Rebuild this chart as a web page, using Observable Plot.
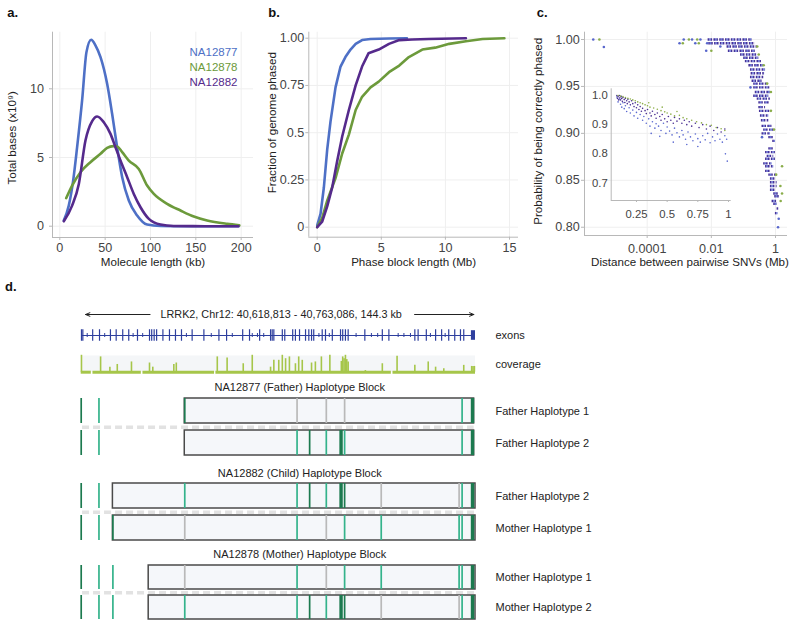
<!DOCTYPE html>
<html><head><meta charset="utf-8">
<script src="https://cdn.jsdelivr.net/npm/d3@7"></script>
<script src="https://cdn.jsdelivr.net/npm/@observablehq/plot@0.6"></script>
<style>
body{margin:0;background:#fff;font-family:"Liberation Sans",Arial,Helvetica,sans-serif;}
#root{position:relative;width:800px;height:626px;overflow:hidden;background:#fff;}
.pane{position:absolute;line-height:0;}
</style></head><body><div id="root"></div>
<script>
// ---------------- DATA ----------------
// Panel a: molecule length (kb) vs total bases (x10^9)
const aNA12877 = [[4.4,0.41],[9.9,1.5],[14.7,3.3],[19.1,5.75],[24.6,9.15],[29.4,12.67],[34.6,13.57],[39.3,13.16],[44.9,12.3],[52.2,10.36],[57.7,8.18],[63.2,5.75],[68.8,3.57],[76.1,1.87],[85.3,0.78],[96.3,0.12],[111,0.02],[140,0],[197,0]];
const aNA12878 = [[7,2.04],[13.6,2.96],[22.8,3.93],[33.8,4.66],[44.9,5.27],[52.2,5.7],[59,5.83],[63.2,5.8],[68.8,5.39],[76.1,4.78],[87.1,4.17],[96.3,2.96],[103.7,2.35],[118.4,1.63],[133.1,1.14],[147.8,0.7],[162.5,0.41],[184.6,0.17],[198,0.07]];
const aNA12882 = [[4.4,0.36],[13.6,1.5],[21,3.08],[28.3,6.24],[35.7,7.65],[41.2,7.99],[48.5,7.57],[55.9,6.72],[61.4,5.75],[66.9,4.78],[74.3,3.57],[81.6,2.35],[89,1.38],[98.2,0.53],[111,0.12],[125.7,0.02],[160,0],[197,0]];
const aXTicks = [0,50,100,150,200];
const aYTicks = [0,5,10];
const sampleNames = ["NA12877","NA12878","NA12882"];

// Panel b: phase block length (Mb) vs fraction of genome phased
const bNA12877 = [[0,0.01],[0.26,0.07],[0.52,0.21],[0.78,0.41],[1.04,0.56],[1.43,0.74],[1.82,0.85],[2.2,0.9],[2.6,0.94],[3.0,0.97],[3.5,0.99],[4.16,0.996],[5.6,0.998],[7.0,1.0]];
const bNA12878 = [[0,0],[0.39,0.05],[0.78,0.14],[1.43,0.26],[1.95,0.39],[2.47,0.49],[3.0,0.62],[3.5,0.69],[4.16,0.74],[4.8,0.77],[5.6,0.82],[6.4,0.855],[7.15,0.9],[8.2,0.94],[9.2,0.95],[10.3,0.97],[11.6,0.984],[12.9,0.996],[14.6,1.0]];
const bNA12882 = [[0,0],[0.39,0.03],[0.78,0.11],[1.17,0.21],[1.56,0.35],[1.95,0.48],[2.47,0.62],[3.0,0.75],[3.5,0.85],[4.0,0.92],[4.8,0.94],[5.6,0.97],[6.4,0.99],[7.4,0.993],[8.7,0.996],[11.6,1.0]];
const bXTicks = [0,5,10,15];
const bYTicks = [0,0.25,0.5,0.75,1];
const bYTickLabels = ["0","0.25","0.5","0.75","1.00"];

// Panel c: rows of points [probability, min distance Mb, max distance Mb]
const cRows = [[1.000,0.00794,0.186],[0.996,0.00832,0.234],[0.9925,0.0309,0.269],[0.988,0.0339,0.234],[0.984,0.0813,0.269],[0.9805,0.102,0.302],[0.977,0.115,0.380],[0.9726,0.148,0.427],[0.968,0.166,0.490],[0.964,0.174,0.457],[0.960,0.166,0.431],[0.956,0.186,0.382],[0.953,0.209,0.550],[0.949,0.209,0.692],[0.944,0.234,0.692],[0.940,0.209,0.617],[0.937,0.269,0.692],[0.933,0.302,0.692],[0.928,0.302,0.490],[0.924,0.316,0.692],[0.919,0.339,0.617],[0.914,0.363,0.617],[0.908,0.380,0.776],[0.904,0.427,0.881],[0.900,0.380,0.692],[0.896,0.617,0.881],[0.892,0.820,0.993],[0.884,0.617,0.881],[0.880,0.490,0.993],[0.876,0.550,0.881],[0.873,0.490,0.993],[0.868,0.427,0.782],[0.865,0.490,0.881],[0.860,0.490,0.695],[0.856,0.617,1.04],[0.852,0.695,0.993],[0.848,0.695,1.12],[0.844,0.695,1.12],[0.840,0.695,0.993],[0.836,0.881,1.32],[0.833,0.946,1.32],[0.828,0.782,1.12],[0.825,0.881,1.12],[0.820,1.12,1.26],[0.815,0.993,1.20]];
const cBluePts = [[2.09e-6,1.0],[4.47e-6,0.992],[0.00138,1.0],[0.00251,1.0],[0.00457,1.0],[0.00102,0.996],[0.00316,0.996],[0.00741,0.996],[0.0191,0.9925],[0.00692,0.988],[0.166,0.949],[1.26,0.809],[1.20,0.80],[0.380,0.896]];
const cGreenPts = [[3.24e-6,1.0],[0.0020,1.0],[0.00363,1.0],[0.00129,0.996],[0.00407,0.996],[0.0100,0.988],[1.60,0.865],[1.42,0.844],[1.60,0.836],[0.27,0.9925],[0.30,0.984],[0.43,0.9726],[0.55,0.953],[0.72,0.944],[0.72,0.924],[0.90,0.904],[1.05,0.856],[1.45,0.828]];
const cXTicks = [1e-4,1e-2,1];
const cXTickLabels = ["0.0001","0.01","1"];
const cYTicks = [0.80,0.85,0.90,0.95,1.00];
// inset (linear distance)
const insetPurple = [[0.09,1.0],[0.095,0.99],[0.1,0.996],[0.105,0.985],[0.11,1.0],[0.115,0.992],[0.12,0.985],[0.125,0.997],[0.13,0.99],[0.135,0.98],[0.14,0.993],[0.15,0.986],[0.155,0.976],[0.16,0.99],[0.17,0.982],[0.175,0.972],[0.18,0.987],[0.19,0.978],[0.2,0.968],[0.21,0.982],[0.22,0.972],[0.23,0.962],[0.24,0.975],[0.25,0.958],[0.26,0.968],[0.27,0.952],[0.28,0.962],[0.29,0.946],[0.3,0.956],[0.32,0.948],[0.33,0.938],[0.34,0.952],[0.36,0.94],[0.37,0.93],[0.38,0.946],[0.4,0.935],[0.41,0.922],[0.42,0.94],[0.44,0.928],[0.45,0.915],[0.46,0.935],[0.48,0.92],[0.5,0.91],[0.51,0.928],[0.53,0.915],[0.55,0.905],[0.56,0.925],[0.58,0.912],[0.6,0.92],[0.62,0.905],[0.64,0.915],[0.66,0.9],[0.68,0.91],[0.7,0.895],[0.73,0.905],[0.76,0.89],[0.79,0.9],[0.82,0.885],[0.85,0.895],[0.88,0.88],[0.91,0.89],[0.94,0.875],[0.97,0.885]];
const insetBlue = [[0.09,0.995],[0.1,0.978],[0.11,0.988],[0.12,0.97],[0.13,0.96],[0.14,0.975],[0.15,0.955],[0.16,0.965],[0.17,0.945],[0.19,0.958],[0.2,0.94],[0.22,0.95],[0.23,0.93],[0.25,0.942],[0.26,0.922],[0.28,0.935],[0.3,0.915],[0.31,0.928],[0.33,0.905],[0.35,0.92],[0.36,0.895],[0.38,0.91],[0.4,0.888],[0.41,0.903],[0.43,0.895],[0.45,0.88],[0.47,0.905],[0.49,0.87],[0.5,0.892],[0.52,0.878],[0.54,0.865],[0.56,0.888],[0.58,0.872],[0.6,0.858],[0.62,0.88],[0.63,0.865],[0.65,0.85],[0.67,0.875],[0.69,0.858],[0.71,0.845],[0.73,0.868],[0.75,0.852],[0.77,0.84],[0.79,0.862],[0.81,0.848],[0.83,0.87],[0.85,0.838],[0.87,0.858],[0.89,0.845],[0.91,0.868],[0.93,0.85],[0.95,0.84],[0.97,0.862],[0.985,0.85],[0.975,0.8],[0.99,0.775],[0.37,0.87],[0.44,0.86],[0.55,0.84],[0.66,0.832],[0.75,0.825]];
const insetGreen = [[0.1,1.0],[0.12,0.998],[0.14,0.996],[0.16,0.993],[0.18,0.99],[0.2,0.988],[0.22,0.985],[0.24,0.982],[0.26,0.978],[0.28,0.975],[0.3,0.972],[0.32,0.968],[0.34,0.965],[0.36,0.96],[0.39,0.957],[0.42,0.953],[0.45,0.948],[0.48,0.944],[0.5,0.94],[0.53,0.936],[0.56,0.93],[0.6,0.932],[0.63,0.924],[0.66,0.92],[0.7,0.915],[0.74,0.91],[0.78,0.906],[0.82,0.9],[0.86,0.898],[0.9,0.89],[0.94,0.886],[0.97,0.88],[0.35,0.975],[0.46,0.96],[0.58,0.945]];
const insetXTicks = [0.25,0.5,0.75,1];
const insetXTickLabels = ["0.25","0.5","0.75","1"];
const insetYTicks = [0.7,0.8,0.9,1.0];
const insetYTickLabels = ["0.7","0.8","0.9","1.0"];

// Panel d: LRRK2 locus, positions in kb from 40,618,813
const geneLabel = "LRRK2, Chr12: 40,618,813 - 40,763,086, 144.3 kb";
const locusLength = 144.3;
const exonPos = [0.1,0.6,4.2,6.7,10.7,12.8,15.2,17.4,20.6,25.0,25.8,26.7,27.6,29.9,32.3,34.5,36.7,40.6,44.9,50.4,53.2,59.1,61.6,65.3,69.3,69.9,70.5,73.6,74.5,77.4,78.4,79.9,82.1,83.3,84.3,85.1,88.2,89.4,91.9,94.9,95.7,96.7,97.7,103.8,110.2,112.6,122.1,123.3,126.3,129.7,131.9,134.5,136.7,138.8,140.0];
const intronMarks = [2.2,8.6,19.0,22.5,38.5,47.6,55.3,62.6,64.5,66.8,87.0,90.8,100.6,106.2,108.5,116.0,118.1,120.5,127.8,133.2];
const coverage = [[0.1,94],[7.1,85],[10.5,28],[13.2,43],[18.4,57],[25.0,51],[26.2,28],[33.9,43],[34.8,51],[49.8,85],[53.4,79],[59.3,47],[62.6,94],[69.3,28],[70.5,66],[72.3,66],[73.6,94],[74.8,75],[76.2,85],[78.4,47],[79.6,85],[80.9,66],[84.3,51],[85.7,57],[87.9,85],[91.0,94],[95.2,60],[95.7,85],[96.2,75],[96.7,94],[97.2,70],[97.7,57],[104.0,9],[110.2,47],[115.6,89],[122.1,38],[127.0,57],[129.7,28],[132.7,19],[140.0,38],[142.9,32],[143.4,32],[143.9,32]];
const coverageSegments = [[0,3.7],[4.3,22.0],[22.6,48.8],[49.3,113.5],[114.1,144.3]];
const snvPos = [0,6.5,11.6,37.9,79.0,83.6,89.7,95.1,96.4,109.8,138.3,139.4,143.2];
// allele codes per haplotype: D = alt (dark green), T = alt (teal), G = reference (grey), . = none
const fatherRows = ["Father Haplotype 1","Father Haplotype 2"];
const fatherAlleles = ["DT.DG.G.G..TD","DT..TDTDT..TD"];
const fatherBlock = [37.9,143.8];
const childRows = ["Father Haplotype 2","Mother Haplotype 1"];
const childAlleles = ["DT.TTDTDDGGTD","DTDGT.G.TTTTD"];
const childBlock = [11.6,144.3];
const motherRows = ["Mother Haplotype 1","Mother Haplotype 2"];
const motherAlleles = ["DTTGT.G.TTTTD","DTTTTDTDDGGTD"];
const motherBlock = [24.7,144.3];

// ---------------- STYLE ----------------
const FONT = "'Liberation Sans', Arial, Helvetica, sans-serif";
const colBlue = "#4e70c6", colGreen = "#6c9a3b", colPurple = "#552a8c";
const axisCol = "#b8b8b8", tickTextCol = "#444", titleCol = "#222", gridCol = "#efefef";
const alleleCol = {D:"#1c7a4f", T:"#34b38b", G:"#b9b9b9"};
const root = document.getElementById("root");
function place(node, left, top){const d=document.createElement("div");d.className="pane";d.style.left=left+"px";d.style.top=top+"px";d.appendChild(node);root.appendChild(d);}
const baseStyle = {fontFamily:FONT, fontSize:"12.6px", background:"transparent", overflow:"visible"};
const toXY = a => a.map(([x,y])=>({x,y}));
const xTitle = (t, dy, dx=0) => Plot.text([t],{frameAnchor:"bottom",lineAnchor:"middle",textAnchor:"middle",dy,dx,fontSize:11.6,fill:titleCol});
const yTitle = (t, dx, dy=0) => Plot.text([t],{frameAnchor:"left",textAnchor:"middle",lineAnchor:"middle",rotate:-90,dx,dy,fontSize:11.6,fill:titleCol});

// ---------------- PANEL A ----------------
{
  const xd=[-8.05,213.6], yd=[-0.822,14.12];
  const series=[[aNA12877,colBlue],[aNA12878,colGreen],[aNA12882,colPurple]];
  const p = Plot.plot({width:260,height:275,marginLeft:52,marginRight:7,marginTop:31.7,marginBottom:38,style:baseStyle,
    x:{domain:xd}, y:{domain:yd},
    marks:[
      Plot.gridX(aXTicks,{stroke:gridCol,strokeOpacity:1}),
      Plot.gridY(aYTicks,{stroke:gridCol,strokeOpacity:1}),
      Plot.ruleX([xd[0]],{stroke:axisCol}), Plot.ruleY([yd[0]],{stroke:axisCol}),
      Plot.axisX(aXTicks,{tickSize:3,tickPadding:3,stroke:axisCol,fill:tickTextCol,label:null}),
      Plot.axisY(aYTicks,{tickSize:3,tickPadding:5.4,stroke:axisCol,fill:tickTextCol,label:null}),
      ...series.map(([d,c])=>Plot.line(toXY(d),{x:"x",y:"y",stroke:c,strokeWidth:2.6,curve:"monotone-x"})),
      xTitle("Molecule length (kb)",25),
      yTitle("Total bases (x10⁹)",-40,3),
      ...sampleNames.map((n,i)=>Plot.text([n],{frameAnchor:"top-right",textAnchor:"end",lineAnchor:"middle",dx:-16,dy:20.5+15*i,fontSize:11.5,fill:series[i][1]}))
    ]});
  place(p,0,0);
}
// ---------------- PANEL B ----------------
{
  const xd=[-0.655,15.7], yd=[-0.0529,1.0317];
  const series=[[bNA12877,colBlue],[bNA12878,colGreen],[bNA12882,colPurple]];
  const p = Plot.plot({width:270,height:275,marginLeft:53.3,marginRight:7,marginTop:31.7,marginBottom:38.3,style:baseStyle,
    x:{domain:xd}, y:{domain:yd},
    marks:[
      Plot.gridX(bXTicks,{stroke:gridCol,strokeOpacity:1}),
      Plot.gridY(bYTicks,{stroke:gridCol,strokeOpacity:1}),
      Plot.ruleX([xd[0]],{stroke:axisCol}), Plot.ruleY([yd[0]],{stroke:axisCol}),
      Plot.axisX(bXTicks,{tickSize:3,tickPadding:3,stroke:axisCol,fill:tickTextCol,label:null}),
      Plot.axisY(bYTicks,{tickSize:3,tickPadding:1.5,stroke:axisCol,fill:tickTextCol,label:null,tickFormat:d=>bYTickLabels[bYTicks.indexOf(d)]}),
      ...series.map(([d,c])=>Plot.line(toXY(d),{x:"x",y:"y",stroke:c,strokeWidth:2.6})),
      xTitle("Phase block length (Mb)",25),
      yTitle("Fraction of genome phased",-36.6,-12)
    ]});
  place(p,255,0);
}
// ---------------- PANEL C ----------------
{
  const xd=[1.114e-6,2.366], yd=[0.7912,1.00778];
  const p = Plot.plot({width:280,height:275,marginLeft:64,marginRight:13,marginTop:31.7,marginBottom:40,style:baseStyle,
    x:{type:"log",domain:xd}, y:{domain:yd},
    marks:[
      Plot.gridX(cXTicks,{stroke:gridCol,strokeOpacity:1}),
      Plot.gridY(cYTicks,{stroke:gridCol,strokeOpacity:1}),
      Plot.ruleX([xd[0]],{stroke:axisCol}), Plot.ruleY([yd[0]],{stroke:axisCol}),
      Plot.axisX(cXTicks,{tickSize:3,tickPadding:5.3,stroke:axisCol,fill:tickTextCol,label:null,tickFormat:d=>cXTickLabels[cXTicks.indexOf(d)]}),
      Plot.axisY(cYTicks,{tickSize:3,tickPadding:1.7,stroke:axisCol,fill:tickTextCol,label:null,tickFormat:d=>d.toFixed(2)}),
      Plot.ruleY(cRows,{y:d=>d[0],x1:d=>d[1],x2:d=>d[2],stroke:"#47339a",strokeWidth:2.4,strokeDasharray:"1.6,1.3"}),
      Plot.ruleY(cRows,{y:d=>d[0],x1:d=>d[1],x2:d=>d[2],stroke:"#6675d6",strokeWidth:2.4,strokeDasharray:"1.3,4.5",strokeDashoffset:-1.6}),
      Plot.dot(toXY(cBluePts),{x:"x",y:"y",r:1.3,fill:"#5866cc"}),
      Plot.dot(toXY(cGreenPts),{x:"x",y:"y",r:1.3,fill:"#8aad4a"}),
      xTitle("Distance between pairwise SNVs (Mb)",27,4),
      yTitle("Probability of being correctly phased",-46,-2.5)
    ]});
  place(p,520,0);
  const xi=[0.044,1.022], yi=[0.64,1.023];
  const ins = Plot.plot({width:170,height:145,marginLeft:40.7,marginRight:9.3,marginTop:8.3,marginBottom:25,style:{...baseStyle,fontSize:"11.3px"},
    x:{domain:xi}, y:{domain:yi},
    marks:[
      Plot.ruleX([xi[0]],{stroke:axisCol}), Plot.ruleY([yi[0]],{stroke:axisCol}),
      Plot.axisX(insetXTicks,{tickSize:2,tickPadding:7,stroke:axisCol,fill:tickTextCol,label:null,tickFormat:d=>insetXTickLabels[insetXTicks.indexOf(d)]}),
      Plot.axisY(insetYTicks,{tickSize:0,tickPadding:3.4,stroke:axisCol,fill:tickTextCol,label:null,tickFormat:d=>insetYTickLabels[insetYTicks.indexOf(d)]}),
      Plot.dot(toXY(insetBlue),{x:"x",y:"y",r:0.8,fill:"#5a68d0"}),
      Plot.dot(toXY(insetPurple),{x:"x",y:"y",r:0.8,fill:"#4a2f92"}),
      Plot.dot(toXY(insetGreen),{x:"x",y:"y",r:0.8,fill:"#8cae48"})
    ]});
  place(ins,570,80);
}
// ---------------- PANEL D ----------------
const dW=540, dML=20.7, dMR=125, dX={domain:[0,locusLength]};
const dStyle = {...baseStyle, fontSize:"11px"};
{
  const arrows=[{from:25.2,to:1.6},{from:122.0,to:143.7}];
  const p = Plot.plot({width:dW,height:20,marginLeft:dML,marginRight:dMR,marginTop:0,marginBottom:0,style:dStyle,
    x:{...dX,axis:null}, y:{domain:[-1,1],axis:null},
    marks:[
      Plot.arrow(arrows,{x1:"from",x2:"to",y1:()=>0,y2:()=>0,stroke:"#222",strokeWidth:1,headLength:7,headAngle:45}),
      Plot.text([{x:73.2,y:0,t:geneLabel}],{x:"x",y:"y",text:"t",fontSize:10.8,fill:"#222"})
    ]});
  place(p,60,304);
}
{
  const p = Plot.plot({width:dW,height:16,marginLeft:dML,marginRight:dMR,marginTop:0,marginBottom:0,style:dStyle,
    x:{...dX,axis:null}, y:{domain:[-1,1],axis:null},
    marks:[
      Plot.ruleY([0],{x1:0.3,x2:locusLength,stroke:"#2e3f9e",strokeWidth:1.2}),
      Plot.ruleX(intronMarks,{y1:-0.25,y2:0.25,stroke:"#2e3f9e",strokeWidth:1}),
      Plot.ruleX(exonPos,{y1:-0.72,y2:0.72,stroke:"#2e3f9e",strokeWidth:1.2}),
      Plot.rect([{a:142.8,b:locusLength}],{x1:"a",x2:"b",y1:()=>-0.6,y2:()=>0.6,fill:"#2e3f9e"}),
      Plot.text([{x:locusLength,y:0,t:"exons"}],{x:"x",y:"y",text:"t",dx:20,textAnchor:"start",fill:"#222"})
    ]});
  place(p,60,327);
}
{
  const p = Plot.plot({width:dW,height:26,marginLeft:dML,marginRight:dMR,marginTop:5.7,marginBottom:2.3,style:dStyle,
    x:{...dX,axis:null}, y:{domain:[0,100],axis:null},
    marks:[
      Plot.rect([{a:0,b:locusLength}],{x1:"a",x2:"b",y1:()=>0,y2:()=>90,fill:"#f4f6f8"}),
      Plot.ruleY(coverageSegments,{x1:d=>d[0],x2:d=>d[1],y:()=>0,stroke:"#a6c64a",strokeWidth:3}),
      Plot.ruleX(coverage,{x:d=>d[0],y1:()=>0,y2:d=>d[1],stroke:"#a6c64a",strokeWidth:1.6}),
      Plot.text([{x:locusLength,y:43,t:"coverage"}],{x:"x",y:"y",text:"t",dx:20,textAnchor:"start",fill:"#222"})
    ]});
  place(p,60,348);
}
function blockPlot(title, rows, alleles, block, height, mt, mb, padInner, gapOffset){
  const variants=[];
  alleles.forEach((s,ri)=>{[...s].forEach((c,i)=>{ if(c!==".") variants.push({row:rows[ri],pos:snvPos[i],c,thick:(i===7||i===12)&&c==="D"}); });});
  const bars = rows.map(r=>({row:r,start:block[0],end:block[1]}));
  return Plot.plot({width:dW,height,marginLeft:dML,marginRight:dMR,marginTop:mt,marginBottom:mb,style:dStyle,
    x:{...dX,axis:null}, y:{domain:rows,type:"band",paddingInner:padInner,paddingOuter:0},
    marks:[
      Plot.ruleY([rows[0]],{x1:()=>0.5,x2:()=>block[1],dy:gapOffset,stroke:"#e2e2e2",strokeWidth:3.5,strokeDasharray:"7,4"}),
      Plot.barX(bars,{x1:"start",x2:"end",y:"row",fill:"#f5f7fa",stroke:"#4a4a4a",strokeWidth:1.5}),
      Plot.tickX(variants.filter(v=>!v.thick),{x:"pos",y:"row",stroke:v=>alleleCol[v.c],strokeWidth:1.7}),
      Plot.tickX(variants.filter(v=>v.thick),{x:"pos",y:"row",stroke:v=>alleleCol[v.c],strokeWidth:3.4}),
      Plot.text([{x:80,t:title}],{x:"x",text:"t",frameAnchor:"top",lineAnchor:"middle",dy:-10,fill:"#222",fontSize:11}),
      Plot.axisY({anchor:"right",tickSize:0,tickPadding:20,fill:"#222",label:null,fontSize:11})
    ]});
}
place(blockPlot("NA12877 (Father) Haplotype Block",fatherRows,fatherAlleles,fatherBlock,85,22.3,4.7,0.2236,16.3),60,375);
place(blockPlot("NA12882 (Child) Haplotype Block",childRows,childAlleles,childBlock,85,22.7,4.3,0.207,16.2),60,460);
place(blockPlot("NA12878 (Mother) Haplotype Block",motherRows,motherAlleles,motherBlock,84,22.3,6.7,0.197,15.3),60,542);

// panel letters
const svg = d3.select(root).append("svg").attr("width",800).attr("height",626).style("position","absolute").style("left",0).style("top",0).style("pointer-events","none");
[["a.",7.3,16.7],["b.",268.3,16.7],["c.",536.7,16.7],["d.",5,291]].forEach(([t,x,y])=>svg.append("text").attr("x",x).attr("y",y).attr("font-family",FONT).attr("font-weight","bold").attr("font-size",13).attr("fill","#111").text(t));
</script></body></html>
